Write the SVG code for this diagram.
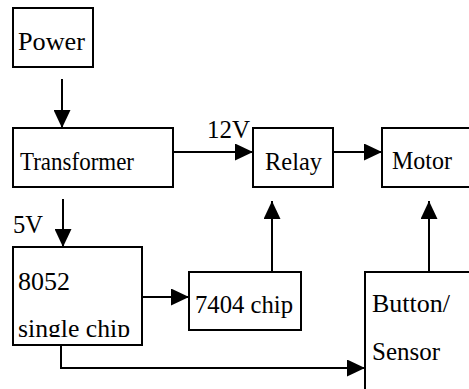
<svg xmlns="http://www.w3.org/2000/svg" width="469" height="389" viewBox="0 0 469 389">
<defs>
<style>
.box{fill:#fff;stroke:#000;stroke-width:2}
.t{font-family:'Liberation Serif','Times New Roman',serif;font-size:25px;fill:#000}
.c{fill:none;stroke:#000;stroke-width:2}
</style>
<marker id="ah" markerUnits="userSpaceOnUse" markerWidth="18" markerHeight="17" refX="18" refY="8.5" orient="auto">
<path d="M0,0 L18,8.5 L0,17 z" fill="#000"/>
</marker>
<clipPath id="clip8052"><rect x="13" y="247" width="129" height="90"/></clipPath>
</defs>
<rect width="469" height="389" fill="#fff"/>
<g id="connectors">
<line class="c" x1="62" y1="79" x2="62" y2="128" marker-end="url(#ah)"/>
<line class="c" x1="173" y1="152" x2="253" y2="152" marker-end="url(#ah)"/>
<line class="c" x1="333" y1="152" x2="382" y2="152" marker-end="url(#ah)"/>
<line class="c" x1="63" y1="199" x2="63" y2="247" marker-end="url(#ah)"/>
<line class="c" x1="142" y1="297" x2="189" y2="297" marker-end="url(#ah)"/>
<line class="c" x1="272" y1="272" x2="272" y2="201" marker-end="url(#ah)"/>
<line class="c" x1="429" y1="272" x2="429" y2="201" marker-end="url(#ah)"/>
<path class="c" d="M61,345 V368 H365" marker-end="url(#ah)"/>
<text class="t" x="207" y="138" textLength="43" lengthAdjust="spacingAndGlyphs">12V</text>
<text class="t" x="13" y="233" textLength="30" lengthAdjust="spacingAndGlyphs">5V</text>
</g>
<g id="power">
<rect class="box" x="13" y="8" width="80" height="59"/>
<text class="t" x="18" y="50" textLength="67" lengthAdjust="spacingAndGlyphs">Power</text>
</g>
<g id="transformer">
<rect class="box" x="13" y="128" width="160" height="59"/>
<text class="t" x="20" y="170" textLength="114" lengthAdjust="spacingAndGlyphs">Transformer</text>
</g>
<g id="relay">
<rect class="box" x="253" y="128" width="80" height="59"/>
<text class="t" x="265" y="170" textLength="57" lengthAdjust="spacingAndGlyphs">Relay</text>
</g>
<g id="motor">
<rect class="box" x="382" y="128" width="100" height="59"/>
<text class="t" x="392" y="169" textLength="60" lengthAdjust="spacingAndGlyphs">Motor</text>
</g>
<g id="chip8052">
<rect class="box" x="13" y="247" width="129" height="98"/>
<text class="t" x="18" y="290" textLength="52" lengthAdjust="spacingAndGlyphs">8052</text>
<text class="t" x="18" y="337" clip-path="url(#clip8052)" textLength="112" lengthAdjust="spacingAndGlyphs">single chip</text>
</g>
<g id="chip7404">
<rect class="box" x="189" y="272" width="112" height="58"/>
<text class="t" x="195" y="313" textLength="98" lengthAdjust="spacingAndGlyphs">7404 chip</text>
</g>
<g id="button">
<rect class="box" x="365" y="272" width="120" height="130"/>
<text class="t" x="372" y="312" textLength="78" lengthAdjust="spacingAndGlyphs">Button/</text>
<text class="t" x="372" y="360" textLength="68" lengthAdjust="spacingAndGlyphs">Sensor</text>
</g>
</svg>
